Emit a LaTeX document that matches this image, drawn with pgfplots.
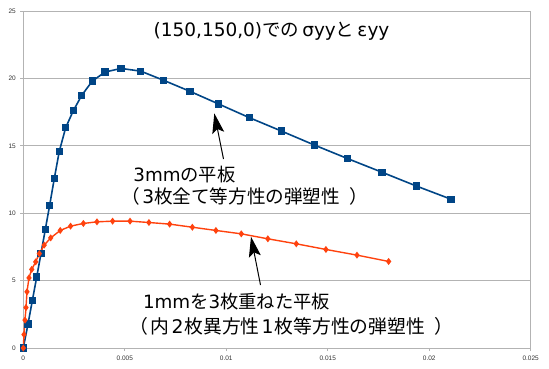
\documentclass[border=0pt]{standalone}
\usepackage{pgfplots}
\pgfplotsset{compat=1.18}
\usepackage{fontspec}
\setmainfont{DejaVu Sans}
\newfontfamily\jp{Noto Sans CJK JP}
\newfontfamily\tickfont{Liberation Sans}
\usetikzlibrary{arrows.meta}
\definecolor{lblue}{HTML}{004586}
\definecolor{lorange}{HTML}{FF420E}
\definecolor{gridgray}{HTML}{B3B3B3}
\definecolor{ticktext}{HTML}{333333}
\begin{document}
\begin{tikzpicture}
\useasboundingbox (0,0) rectangle (549pt,368pt);
\begin{axis}[
  at={(23.3pt,20pt)}, anchor=south west,
  scale only axis, width=507.4pt, height=337pt,
  xmin=0, xmax=0.025, ymin=0, ymax=25,
  xtick={0,0.005,0.01,0.015,0.02,0.025},
  xticklabels={0,0.005,0.01,0.015,0.02,0.025},
  ytick={0,5,10,15,20,25},
  yticklabels={0,5,10,15,20,25},
  scaled x ticks=false,
  tick align=outside, tick pos=left,
  major tick length=3pt,
  every tick/.style={gridgray, line width=0.8pt},
  axis line style={gridgray, line width=0.8pt},
  ymajorgrids, grid style={gridgray, line width=0.8pt},
  ticklabel style={font=\tickfont\fontsize{6.5}{7}\selectfont, text=ticktext},
  xticklabel style={yshift=-1pt},
  yticklabel style={xshift=-1pt},
  clip=false,
]
\addplot[color=lblue, line width=1.6pt, mark=square*, mark size=2.8pt, mark options={solid}] coordinates {
(0,0) (0.000232,1.78) (0.000443,3.5) (0.00066,5.26) (0.000872,7.01) (0.001084,8.79)
(0.0013,10.6) (0.001527,12.57) (0.001773,14.59) (0.002089,16.35) (0.002463,17.6)
(0.002877,18.74) (0.003399,19.8) (0.004025,20.47) (0.004813,20.74) (0.005783,20.54)
(0.006897,19.87) (0.008212,19.04) (0.009626,18.1) (0.011133,17.09) (0.012709,16.1)
(0.014335,15.06) (0.01598,14.05) (0.01767,13.04) (0.01936,12.02) (0.02107,11.04)
};
\addplot[color=lorange, line width=1.4pt, mark=diamond*, mark size=2.4pt, mark options={solid}] coordinates {
(0,0) (0.000034,1.0) (0.000084,2.07) (0.000133,3.0) (0.000182,4.17) (0.00028,5.2)
(0.000414,5.83) (0.00061,6.39) (0.00079,7.0) (0.00103,7.63) (0.00135,8.17)
(0.00182,8.72) (0.00233,9.04) (0.00296,9.24) (0.00363,9.36) (0.0044,9.41)
(0.00526,9.41) (0.00619,9.31) (0.00721,9.19) (0.00833,8.96) (0.00949,8.72)
(0.01074,8.47) (0.01205,8.1) (0.01345,7.73) (0.01491,7.31) (0.01644,6.89) (0.018,6.42)
};
\end{axis}
\node[font=\fontsize{18.5}{20}\selectfont, inner sep=0pt] at (271.5pt,337pt) {(150,150,0){\jp での}\,σyy{\jp と}\,εyy};
\node[font=\fontsize{18.3}{20}\selectfont, inner sep=0pt, anchor=west] at (133.2pt,193pt) {3mm{\jp の平板}};
\node[font=\fontsize{18.6}{20}\selectfont, inner sep=0pt, anchor=west] at (121pt,171.3pt) {{\jp （}\kern2.5pt 3{\jp 枚全て等方性の弾塑性}\kern9pt{\jp ）}};
\node[font=\fontsize{18.3}{20}\selectfont, inner sep=0pt, anchor=west] at (142.8pt,66.3pt) {1mm{\jp を}3{\jp 枚重ねた平板}};
\node[font=\fontsize{18.8}{20}\selectfont, inner sep=0pt, anchor=west] at (129.2pt,41.3pt) {{\jp （}\kern2.5pt{\jp 内}\kern2pt 2\kern1pt{\jp 枚異方性}\kern2pt 1\kern1pt{\jp 枚等方性の弾塑性}\kern9pt{\jp ）}};
\draw[black, line width=1pt, -{Stealth[length=20pt,width=12pt,inset=4pt]}] (223.5pt,209pt) -- (214.3pt,254.7pt);
\draw[black, line width=1pt, -{Stealth[length=20pt,width=12pt,inset=4pt]}] (260.5pt,83pt) -- (251pt,131.3pt);
\end{tikzpicture}
\end{document}
